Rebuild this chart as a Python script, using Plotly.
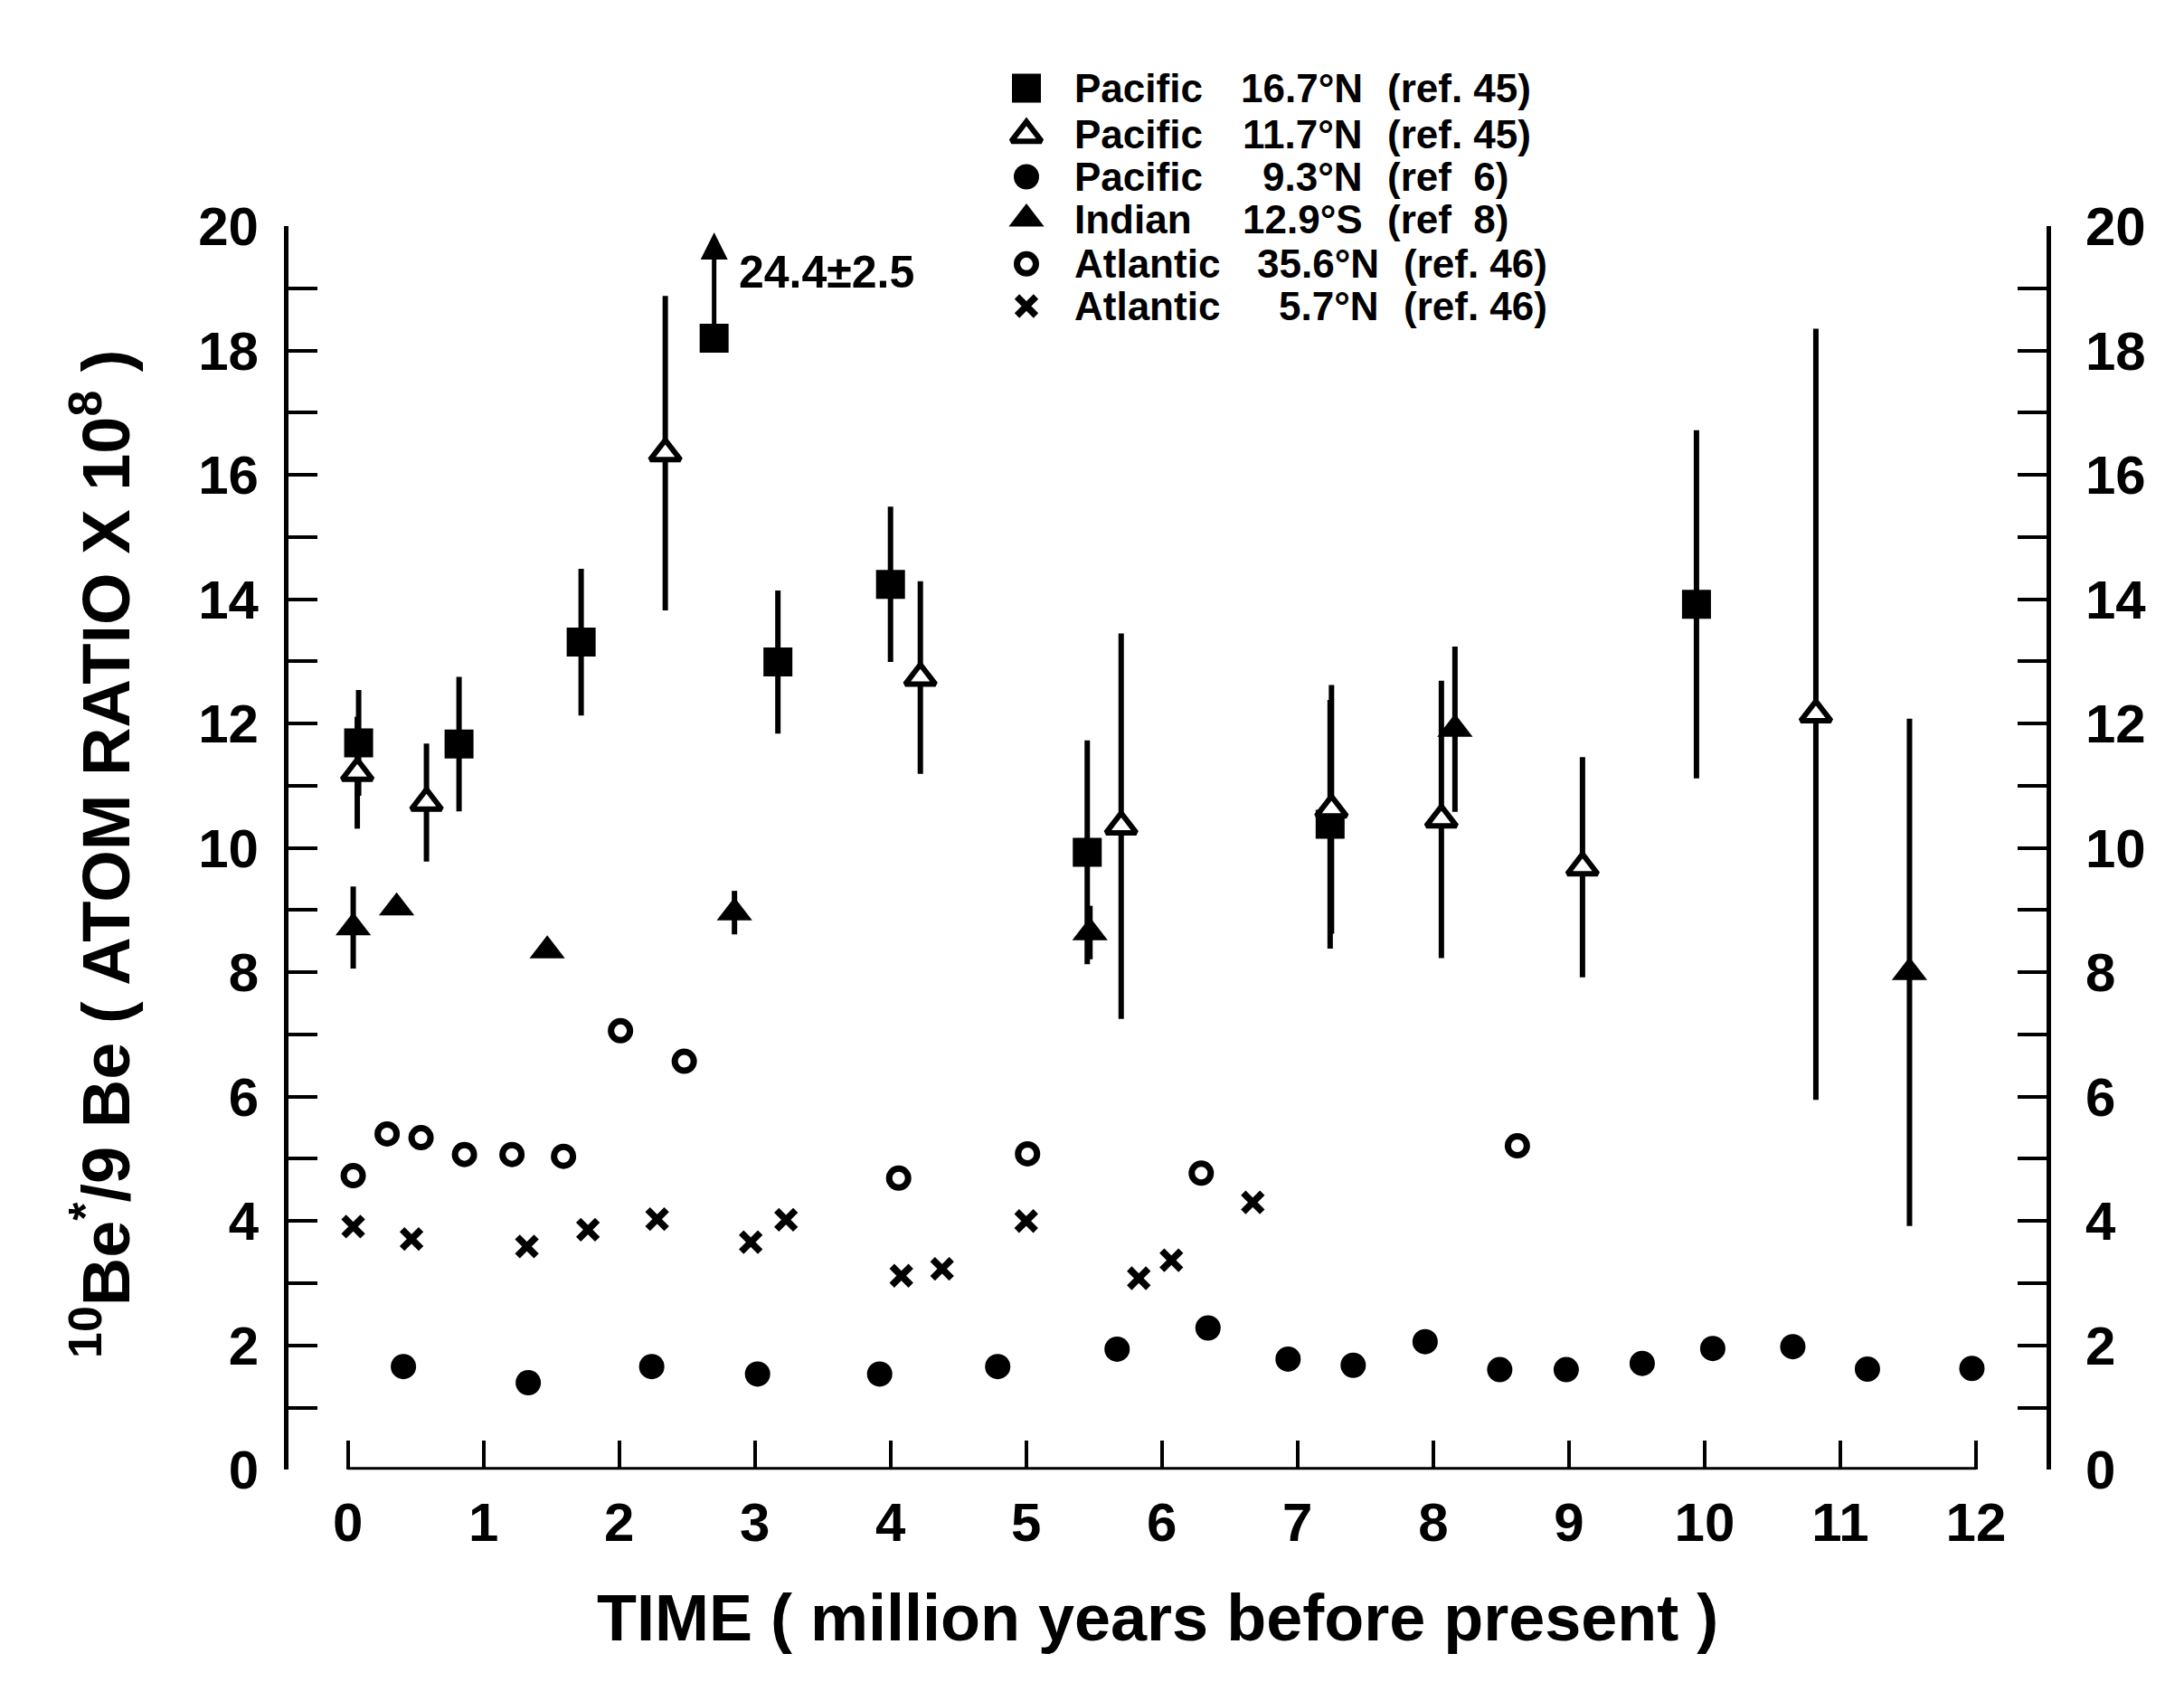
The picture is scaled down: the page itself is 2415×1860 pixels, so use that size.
import plotly.graph_objects as go

# ---------------- data ----------------
# Pacific 16.7°N (ref. 45) - filled squares, with 1-sigma bars
pac167_t = [0.08, 0.82, 1.72, 3.17, 4.00, 5.45, 7.24, 9.94]
pac167_v = [11.69, 11.67, 13.31, 12.99, 14.24, 9.93, 10.38, 13.92]
pac167_err = [0.85, 1.08, 1.18, 1.15, 1.25, 1.80, 2.00, 2.80]
# off-scale sample (true value 24.4 ± 2.5) drawn at the top of the scale
pac167_off_t = [2.70]
pac167_off_plot_v = [18.20]
pac167_off_label = "24.4±2.5"

# Pacific 11.7°N (ref. 45) - open triangles
pac117_t = [0.07, 0.58, 2.34, 4.22, 5.70, 7.25, 8.06, 9.10, 10.82]
pac117_v = [11.21, 10.73, 16.35, 12.74, 10.35, 10.62, 10.46, 9.69, 12.15]
pac117_err = [0.90, 0.95, 2.53, 1.55, 3.10, 2.00, 2.23, 1.77, 6.20]

# Pacific 9.3°N (ref 6) - filled circles
pac93_t = [0.41, 1.33, 2.24, 3.02, 3.92, 4.79, 5.67, 6.34, 6.93, 7.41, 7.94,
           8.49, 8.98, 9.54, 10.06, 10.65, 11.20, 11.97]
pac93_v = [1.66, 1.40, 1.66, 1.54, 1.54, 1.66, 1.94, 2.28, 1.78, 1.68, 2.06,
           1.61, 1.61, 1.71, 1.95, 1.98, 1.62, 1.63]

# Indian 12.9°S (ref 8) - filled triangles
ind129_t = [0.04, 0.36, 1.47, 2.85, 5.47, 8.16, 11.51]
ind129_v = [8.72, 9.04, 8.35, 8.96, 8.64, 11.91, 8.00]
ind129_err = [0.66, 0.0, 0.0, 0.35, 0.43, 1.33, 4.08]

# Atlantic 35.6°N (ref. 46) - open circles
atl356_t = [0.04, 0.29, 0.54, 0.86, 1.21, 1.59, 2.01, 2.48, 4.06, 5.01, 6.29, 8.62]
atl356_v = [4.73, 5.40, 5.34, 5.07, 5.07, 5.04, 7.06, 6.57, 4.69, 5.08, 4.77, 5.21]

# Atlantic 5.7°N (ref. 46) - crosses
atl57_t = [0.04, 0.47, 1.32, 1.77, 2.28, 2.97, 3.23, 4.08, 4.38, 5.00, 5.83, 6.07, 6.67]
atl57_v = [3.91, 3.71, 3.59, 3.86, 4.03, 3.66, 4.02, 3.12, 3.23, 4.00, 3.08, 3.37, 4.30]

# legend text, split into the three typed columns
legend_names = ["Pacific", "Pacific", "Pacific", "Indian", "Atlantic", "Atlantic"]
legend_lats = ["16.7°N", "11.7°N", "9.3°N", "12.9°S", "35.6°N", "5.7°N"]
legend_refs = ["(ref. 45)", "(ref. 45)", "(ref  6)", "(ref  8)", "(ref. 46)", "(ref. 46)"]

x_tick_vals = list(range(0, 13))
y_tick_vals = list(range(0, 21, 2))

x_title = "TIME ( million years before present )"
y_title = "<sup>10</sup>Be<sup>*</sup>/9 Be ( ATOM RATIO X 10<sup>8</sup> )"

# ---------------- layout geometry (pixels of the 2415x1860 page) ----------------
OFF = 8                      # page body margin of the html page
FW, FH = 2415 - 2 * OFF, 1860 - 2 * OFF


def fx(px):
    return (px - OFF) / FW


def fy(py):
    return 1 - (py - OFF) / FH


FONT = "Liberation Sans"
BLACK = "black"
PX_L, PX_R, PX_T, PX_B = 319, 2263, 225, 1652
X_RANGE = [-0.437, 12.52]
Y_RANGE = [0, 20]

M_SQ = dict(symbol="square", size=32, color=BLACK, line=dict(width=0))
M_TRI_OPEN = dict(symbol="triangle-up", size=29, color="white", line=dict(width=6, color=BLACK))
M_DOT = dict(symbol="circle", size=28, color=BLACK, line=dict(width=0))
M_TRI = dict(symbol="triangle-up", size=34, color=BLACK, line=dict(width=0))
M_CIRC_OPEN = dict(symbol="circle-open", size=21, color=BLACK, line=dict(width=7, color=BLACK))
M_X = dict(symbol="x-thin-open", size=21, color=BLACK, line=dict(width=7.5, color=BLACK))


def ebar(arr):
    return dict(type="data", array=arr, symmetric=True, thickness=6, width=0, color=BLACK)


fig = go.Figure()

fig.add_trace(go.Scatter(x=pac167_t, y=pac167_v, mode="markers", marker=M_SQ,
                         error_y=ebar(pac167_err), showlegend=False))
fig.add_trace(go.Scatter(x=pac167_off_t, y=pac167_off_plot_v, mode="markers",
                         marker=M_SQ, showlegend=False))
fig.add_trace(go.Scatter(x=pac117_t, y=pac117_v, mode="markers", marker=M_TRI_OPEN,
                         error_y=ebar(pac117_err), showlegend=False))
fig.add_trace(go.Scatter(x=ind129_t, y=ind129_v, mode="markers", marker=M_TRI,
                         error_y=ebar(ind129_err), showlegend=False))
fig.add_trace(go.Scatter(x=pac93_t, y=pac93_v, mode="markers", marker=M_DOT,
                         showlegend=False))
fig.add_trace(go.Scatter(x=atl356_t, y=atl356_v, mode="markers", marker=M_CIRC_OPEN,
                         showlegend=False))
fig.add_trace(go.Scatter(x=atl57_t, y=atl57_v, mode="markers", marker=M_X,
                         showlegend=False))
# right-hand axis carrier
fig.add_trace(go.Scatter(x=[None], y=[None], yaxis="y2", mode="markers",
                         showlegend=False, hoverinfo="skip"))

# ---- legend as typed in the figure (own pixel-space axes) ----
leg_rows_px = [66.7, 120, 168.3, 216.7, 268.3, 316.7]
leg_markers = [M_SQ, M_TRI_OPEN, M_DOT, M_TRI, M_CIRC_OPEN, M_X]
for yy, mk in zip(leg_rows_px, leg_markers):
    fig.add_trace(go.Scatter(x=[1135], y=[yy], xaxis="x3", yaxis="y3", mode="markers",
                             marker=mk, showlegend=False, hoverinfo="skip"))

leg_font = dict(family=FONT, size=44, color=BLACK, weight="bold")
for i, yy in enumerate(leg_rows_px):
    atl = legend_names[i] == "Atlantic"
    lat_end = 1527 if atl else 1509
    ref_start = 1550 if atl else 1532
    yp = fy(yy)
    fig.add_annotation(x=fx(1186), y=yp, xref="paper", yref="paper", text=legend_names[i],
                       showarrow=False, xanchor="left", yanchor="middle", font=leg_font)
    fig.add_annotation(x=fx(lat_end), y=yp, xref="paper", yref="paper", text=legend_lats[i],
                       showarrow=False, xanchor="right", yanchor="middle", font=leg_font)
    fig.add_annotation(x=fx(ref_start), y=yp, xref="paper", yref="paper", text=legend_refs[i],
                       showarrow=False, xanchor="left", yanchor="middle", font=leg_font)

# off-scale arrow and label
fig.add_annotation(x=pac167_off_t[0], y=19.9, ax=pac167_off_t[0], ay=pac167_off_plot_v[0] + 0.2,
                   xref="x", yref="y", axref="x", ayref="y", text="", showarrow=True,
                   arrowhead=2, arrowsize=1.2, arrowwidth=5, arrowcolor=BLACK)
fig.add_annotation(x=2.87, y=19.26, xref="x", yref="y", text=pac167_off_label,
                   showarrow=False, xanchor="left", yanchor="middle",
                   font=dict(family=FONT, size=50, color=BLACK, weight="bold"))

# axis titles
fig.add_annotation(x=fx(1280), y=fy(1822), xref="paper", yref="paper", text=x_title,
                   showarrow=False, xanchor="center", yanchor="middle",
                   font=dict(family=FONT, size=72, color=BLACK, weight="bold"))
fig.add_annotation(x=fx(112), y=fy(946), xref="paper", yref="paper", text=y_title,
                   showarrow=False, textangle=-90, xanchor="center", yanchor="middle",
                   font=dict(family=FONT, size=74, color=BLACK, weight="bold"))

# bottom axis line only spans 0..12
fig.add_shape(type="line", xref="x", yref="y", x0=x_tick_vals[0], x1=x_tick_vals[-1],
              y0=0, y1=0, line=dict(color=BLACK, width=6))

tick_font = dict(family=FONT, size=60, color=BLACK, weight="bold")
yax_common = dict(range=Y_RANGE, tickvals=y_tick_vals, ticks="inside", ticklen=32,
                  tickwidth=4, tickcolor=BLACK, showline=True, linewidth=5, linecolor=BLACK,
                  showgrid=False, zeroline=False, tickfont=tick_font,
                  minor=dict(dtick=1, ticks="inside", ticklen=32, tickwidth=4, tickcolor=BLACK),
                  fixedrange=True)

fig.update_layout(
    width=FW, height=FH, autosize=False,
    margin=dict(l=0, r=0, t=0, b=0, pad=0),
    paper_bgcolor="white", plot_bgcolor="rgba(0,0,0,0)",
    showlegend=False,
    xaxis=dict(domain=[fx(PX_L), fx(PX_R)], range=X_RANGE, tickvals=x_tick_vals,
               ticks="inside", ticklen=32, tickwidth=4, tickcolor=BLACK,
               showline=False, showgrid=False, zeroline=False, tickfont=tick_font,
               ticklabelstandoff=18, anchor="y", fixedrange=True),
    yaxis=dict(domain=[fy(PX_B), fy(PX_T)], anchor="x", side="left",
               ticklabelstandoff=16, **yax_common),
    yaxis2=dict(overlaying="y", anchor="x", side="right", ticklabelstandoff=26,
                **yax_common),
    xaxis3=dict(domain=[0, 1], range=[OFF, OFF + FW], visible=False, anchor="y3",
                fixedrange=True),
    yaxis3=dict(domain=[0, 1], range=[OFF + FH, OFF], visible=False, anchor="x3",
                fixedrange=True),
)

fig.write_html("out.html")
